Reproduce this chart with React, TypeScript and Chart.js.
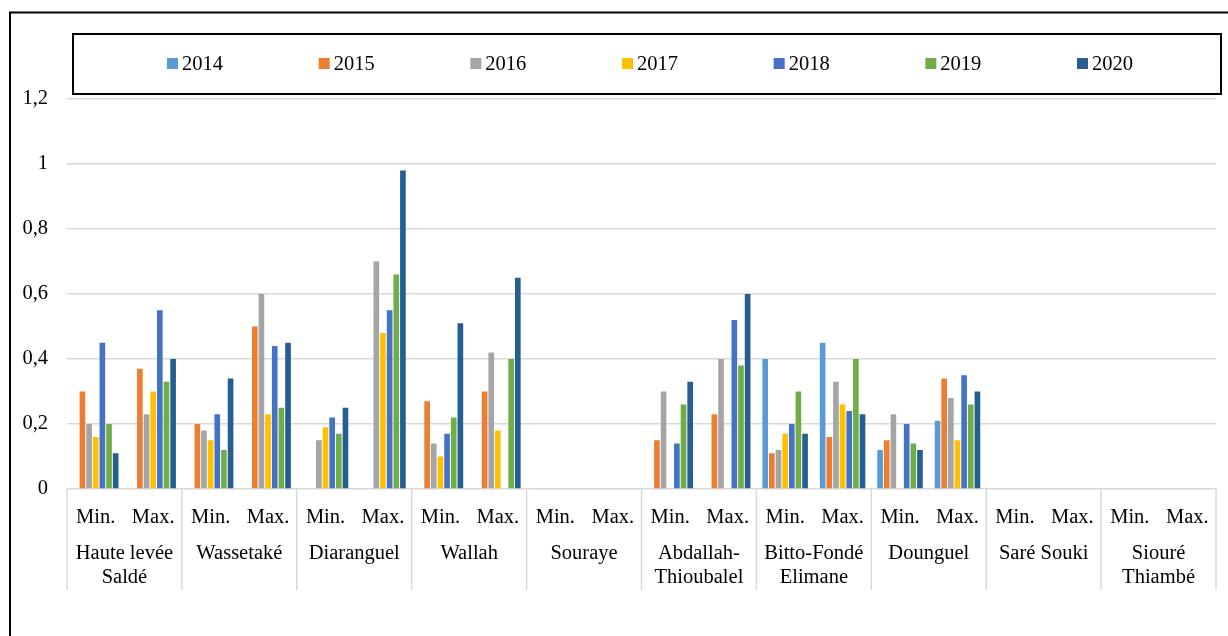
import React, { useEffect, useRef } from "react";
import { Chart, registerables } from "chart.js";

Chart.register(...registerables);

const sites: string[][] = [
  ["Haute levée", "Saldé"],
  ["Wassetaké"],
  ["Diaranguel"],
  ["Wallah"],
  ["Souraye"],
  ["Abdallah-", "Thioubalel"],
  ["Bitto-Fondé", "Elimane"],
  ["Dounguel"],
  ["Saré Souki"],
  ["Siouré", "Thiambé"],
];
const subLabels = ["Min.", "Max."];
const years = ["2014", "2015", "2016", "2017", "2018", "2019", "2020"];
const yTicks = [0, 0.2, 0.4, 0.6, 0.8, 1, 1.2];

// Values per year: (Min., Max.) for each site in order
const v2014 = [null, null, null, null, null, null, null, null, null, null, null, null, 0.40, 0.45, 0.12, 0.21, null, null, null, null];
const v2015 = [0.30, 0.37, 0.20, 0.50, null, null, 0.27, 0.30, null, null, 0.15, 0.23, 0.11, 0.16, 0.15, 0.34, null, null, null, null];
const v2016 = [0.20, 0.23, 0.18, 0.60, 0.15, 0.70, 0.14, 0.42, null, null, 0.30, 0.40, 0.12, 0.33, 0.23, 0.28, null, null, null, null];
const v2017 = [0.16, 0.30, 0.15, 0.23, 0.19, 0.48, 0.10, 0.18, null, null, null, null, 0.17, 0.26, null, 0.15, null, null, null, null];
const v2018 = [0.45, 0.55, 0.23, 0.44, 0.22, 0.55, 0.17, null, null, null, 0.14, 0.52, 0.20, 0.24, 0.20, 0.35, null, null, null, null];
const v2019 = [0.20, 0.33, 0.12, 0.25, 0.17, 0.66, 0.22, 0.40, null, null, 0.26, 0.38, 0.30, 0.40, 0.14, 0.26, null, null, null, null];
const v2020 = [0.11, 0.40, 0.34, 0.45, 0.25, 0.98, 0.51, 0.65, null, null, 0.33, 0.60, 0.17, 0.23, 0.12, 0.30, null, null, null, null];

const seriesValues = [v2014, v2015, v2016, v2017, v2018, v2019, v2020];
const colors = ["#5B9BD5", "#ED7D31", "#A5A5A5", "#FFC000", "#4472C4", "#70AD47", "#255E91"];

const FONT = '"Liberation Serif", "Times New Roman", serif';

const decorPlugin = {
  id: "decor",
  beforeDraw(chart: any) {
    const ctx = chart.ctx;
    ctx.save();
    ctx.fillStyle = "#ffffff";
    ctx.fillRect(0, 0, chart.width, chart.height);
    ctx.restore();
  },
  afterDraw(chart: any) {
    const ctx = chart.ctx;
    const x = chart.scales.x;
    const area = chart.chartArea;
    const step = x.getPixelForValue(1) - x.getPixelForValue(0);
    ctx.save();

    // group dividers
    ctx.strokeStyle = "#d9d9d9";
    ctx.lineWidth = 1.5;
    for (let g = 0; g <= sites.length; g++) {
      const px = x.getPixelForValue(0) - step / 2 + step * 2 * g;
      ctx.beginPath();
      ctx.moveTo(px, area.bottom);
      ctx.lineTo(px, area.bottom + 101);
      ctx.stroke();
    }

    // group labels
    ctx.fillStyle = "#000";
    ctx.font = `20.5px ${FONT}`;
    ctx.textAlign = "center";
    ctx.textBaseline = "alphabetic";
    sites.forEach((lines, g) => {
      const cx = (x.getPixelForValue(2 * g) + x.getPixelForValue(2 * g + 1)) / 2;
      lines.forEach((t, i) => ctx.fillText(t, cx, area.bottom + 70 + 24 * i));
    });

    // legend box
    ctx.strokeStyle = "#000";
    ctx.lineWidth = 2;
    ctx.strokeRect(73, 34, 1148, 60);
    ctx.textAlign = "left";
    ctx.font = `20.5px ${FONT}`;
    chart.data.datasets.forEach((ds: any, i: number) => {
      const lx = 167 + i * 151.67;
      ctx.fillStyle = ds.backgroundColor;
      ctx.fillRect(lx, 58, 11, 11);
      ctx.fillStyle = "#000";
      ctx.fillText(ds.label, lx + 15, 70);
    });

    // outer frame
    ctx.beginPath();
    ctx.moveTo(10, chart.height + 5);
    ctx.lineTo(10, 12.5);
    ctx.lineTo(chart.width + 5, 12.5);
    ctx.stroke();

    ctx.restore();
  },
};

export default function App() {
  const ref = useRef<HTMLCanvasElement>(null);

  useEffect(() => {
    if (!ref.current) return;
    const labels = sites.flatMap(() => subLabels);
    const chart = new Chart(ref.current, {
      type: "bar",
      data: {
        labels,
        datasets: years.map((y, i) => ({
          label: y,
          data: seriesValues[i],
          backgroundColor: colors[i],
          borderWidth: 0,
          categoryPercentage: 0.81,
          barPercentage: 0.85,
        })),
      },
      options: {
        animation: false,
        responsive: false,
        devicePixelRatio: 1,
        layout: { padding: { top: 99, right: 12, left: 0, bottom: 0 } },
        plugins: {
          legend: { display: false },
          tooltip: { enabled: false },
        },
        scales: {
          x: {
            grid: { display: false },
            border: { display: false },
            ticks: {
              color: "#000",
              font: { family: FONT, size: 20.5 },
              padding: 8,
              maxRotation: 0,
              autoSkip: false,
            },
            afterFit: (s: any) => {
              s.height = 147;
            },
          },
          y: {
            min: 0,
            max: 1.2,
            afterBuildTicks: (s: any) => {
              s.ticks = yTicks.map((v) => ({ value: v }));
            },
            grid: { color: "#d9d9d9", lineWidth: 1.5, drawTicks: false },
            border: { display: false },
            ticks: {
              color: "#000",
              font: { family: FONT, size: 20.5 },
              padding: 19,
              callback: (v: any) => String(Math.round(Number(v) * 10) / 10).replace(".", ","),
            },
            afterFit: (s: any) => {
              s.width = 67;
            },
          },
        },
      },
      plugins: [decorPlugin],
    });
    return () => chart.destroy();
  }, []);

  return (
    <div style={{ position: "fixed", left: 0, top: 0, width: 1228, height: 636 }}>
      <canvas ref={ref} width={1228} height={636} />
    </div>
  );
}
